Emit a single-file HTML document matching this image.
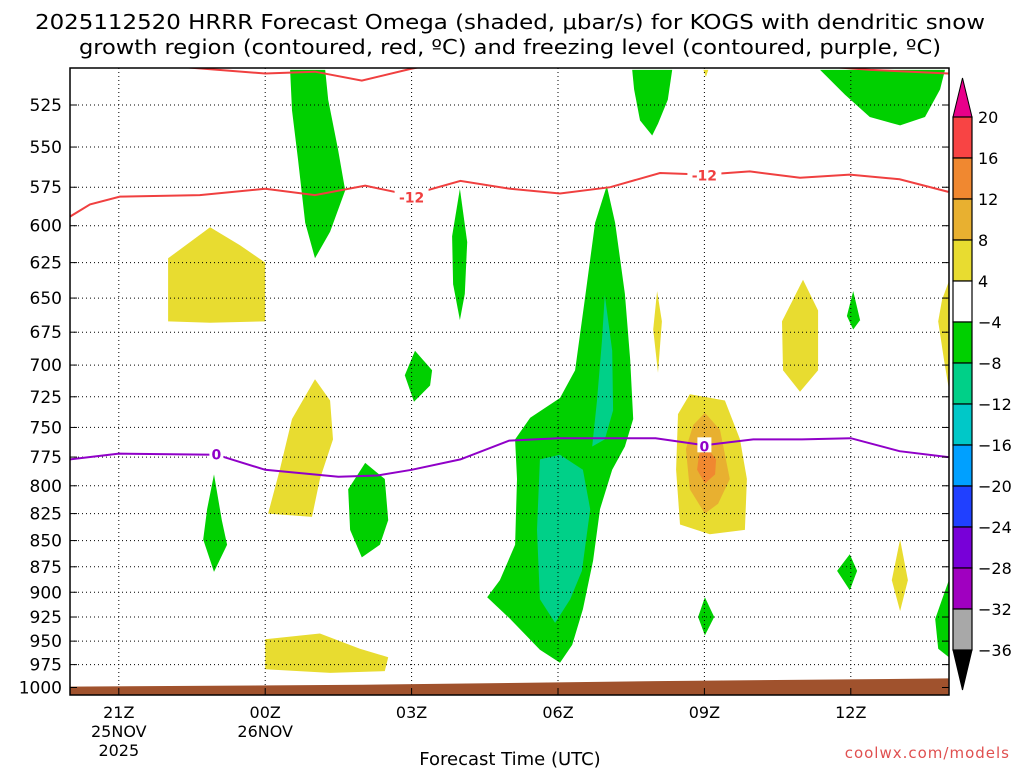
<!DOCTYPE html>
<html><head><meta charset="utf-8"><style>
body{margin:0;background:#fff;}
svg{display:block;font-family:"DejaVu Sans","Liberation Sans",sans-serif;}
</style></head><body>
<svg id="c" width="1024" height="768" viewBox="0 0 1024 768">
<text x="510" y="29" text-anchor="middle" font-size="20" textLength="950" lengthAdjust="spacingAndGlyphs">2025112520 HRRR Forecast Omega (shaded, μbar/s) for KOGS with dendritic snow</text>
<text x="510" y="54" text-anchor="middle" font-size="20" textLength="862" lengthAdjust="spacingAndGlyphs">growth region (contoured, red, ºC) and freezing level (contoured, purple, ºC)</text>
<text x="510" y="765" text-anchor="middle" font-size="18">Forecast Time (UTC)</text>
<text x="1010" y="758" text-anchor="end" font-size="15" fill="#e05050" letter-spacing="1">coolwx.com/models</text>
</svg>
<script>
const pTicks=[525,550,575,600,625,650,675,700,725,750,775,800,825,850,875,900,925,950,975,1000];
const xTickHours=[1,4,7,10,13,16];
const xTickLabels=["21Z","00Z","03Z","06Z","09Z","12Z"];
const xDateLabels=[["25NOV","2025"],["26NOV"],[],[],[],[]];
const frzHours=[0,1,3,4,5.5,6.3,7,8,9,10,12,13,14,15,16,17,18];
const frzP=[777,772,773,786,792,791,786,777,761,759,759,765,760,760,759,770,775];
const dgzHours=[0,0.41,1.02,2.66,4,5.02,6.05,6.97,8,9.02,10.04,11.07,12.09,13.01,13.93,14.96,15.98,17,18];
const dgzP=[594,586,581,580,576,580,574,580,571,576,579,575,566,567,565,569,567,570,578];
const topHours=[1.64,4,5.02,5.98,6.97,7.8,10.9,14.96,16.4,18];
const topP=[502,507,506,511,504.5,500,495,502,505,507];
const terrHours=[0,6,12,18];
const terrP=[999,997,993,990];
const cbLevels=["20","16","12","8","4","−4","−8","−12","−16","−20","−24","−28","−32","−36"];
const cbColors=["#f84444","#f08830","#e8b030","#e8dc30","#ffffff","#00d000","#00d088","#00c8c8","#00a0ff","#2040ff","#7800d8","#a000c0","#a8a8a8"];
const G="#00d000",T="#00d088",Yc="#e8dc30",Au="#e8b030",Or="#f08830";
const blobs=[
[G,[[4.51,505],[5.23,505],[5.29,522],[5.49,551],[5.64,577],[5.33,604],[5.02,622],[4.82,598],[4.67,557],[4.55,528]]],
[G,[[11.52,505],[12.34,505],[12.25,522],[12.05,536],[11.93,543],[11.68,534],[11.56,516]]],
[G,[[15.37,505],[17.93,505],[17.83,516],[17.52,532],[17.01,537],[16.39,532],[15.88,519]]],
[Yc,[[12.98,505],[13.08,505],[13.03,509]]],
[Yc,[[2.01,622],[2.87,601],[3.48,613],[4.0,625],[4.0,667],[2.87,668],[2.01,667]]],
[G,[[7.99,576],[8.14,611],[8.09,647],[7.99,666],[7.85,640],[7.83,607]]],
[G,[[7.07,689],[7.42,704],[7.38,716],[7.05,729],[6.86,708]]],
[Yc,[[5.02,711],[5.33,728],[5.39,760],[5.12,794],[4.96,828],[4.06,825],[4.30,786],[4.55,743]]],
[G,[[6.05,780],[6.45,794],[6.52,831],[6.35,854],[5.98,866],[5.74,840],[5.70,803]]],
[G,[[2.95,790],[3.11,831],[3.22,854],[2.95,880],[2.73,849],[2.81,821]]],
[Yc,[[4,948],[5.12,942],[5.94,958],[6.52,967],[6.45,982],[5.33,984],[4,980]]],
[G,[[11.0,574],[11.17,598],[11.37,647],[11.48,696],[11.54,743],[11.37,766],[11.11,786],[10.86,821],[10.72,869],[10.51,917],[10.29,954],[10.04,973],[9.63,959],[9.02,927],[8.55,905],[8.81,888],[9.12,854],[9.16,794],[9.12,760],[9.43,742],[10.04,726],[10.35,704],[10.55,651],[10.76,598]]],
[T,[[9.63,777],[10.04,773],[10.51,786],[10.66,821],[10.49,879],[10.25,907],[9.94,931],[9.63,907],[9.57,840]]],
[T,[[10.96,648],[11.11,689],[11.13,736],[10.96,760],[10.70,766],[10.80,728],[10.90,682]]],
[Yc,[[12.03,645],[12.13,667],[12.05,706],[11.95,673]]],
[Yc,[[12.70,723],[13.42,728],[13.73,760],[13.87,794],[13.83,840],[13.11,844],[12.5,835],[12.42,786],[12.46,739]]],
[Au,[[13.01,738],[13.32,752],[13.52,794],[13.28,816],[13.01,825],[12.70,803],[12.62,768],[12.77,748]]],
[Or,[[13.03,766],[13.24,777],[13.22,790],[13.01,798],[12.85,786],[12.89,773]]],
[Yc,[[15.02,637],[15.33,659],[15.33,704],[14.96,721],[14.61,704],[14.59,667]]],
[G,[[16.05,645],[16.19,666],[16.05,673],[15.92,663]]],
[Yc,[[18.01,638],[18.01,719],[17.91,696],[17.79,667],[17.87,651]]],
[G,[[15.98,863],[16.13,879],[15.98,898],[15.72,879]]],
[Yc,[[17.01,849],[17.17,888],[17.01,919],[16.84,888]]],
[G,[[13.01,905],[13.20,925],[13.01,944],[12.87,925]]],
[G,[[18.01,888],[18.01,967],[17.79,958],[17.73,927],[17.87,907]]]
];
const blobNames=["green-upper-00z","green-upper-08z","green-upper-12z","yellow-top-09z","yellow-625-23z","green-thin-04z","green-700-03z","yellow-750-01z","green-825-02z","green-850-23z","yellow-960-01z","green-main-06z","teal-main-06z","teal-spire-07z","yellow-thin-08z","yellow-main-09z","gold-09z","orange-09z","yellow-700-11z","green-small-12z","yellow-edge-right","green-880-12z","yellow-880-13z","green-925-09z","green-edge-bottom"];

const NS="http://www.w3.org/2000/svg";
const svg=document.getElementById('c');
const L=70,R=949,Tp=68,B=695;
const X=h=>L+h*48.8;
const Y=p=>105+904*Math.log(p/525);
function mk(tag,attrs,parent){const e=document.createElementNS(NS,tag);for(const k in attrs)e.setAttribute(k,attrs[k]);(parent||svg).appendChild(e);return e;}
const defs=mk('defs',{});
const cp=mk('clipPath',{id:'plotclip'},defs);
mk('rect',{x:L,y:Tp,width:R-L,height:B-Tp},cp);
const plot=mk('g',{'clip-path':'url(#plotclip)'});


blobs.forEach((b,i)=>{
  const pg=mk('polygon',{points:b[1].map(v=>X(v[0]).toFixed(1)+','+Y(v[1]).toFixed(1)).join(' '),fill:b[0]},plot);
  
  
});
// grid
pTicks.forEach(p=>{const l=mk('line',{x1:L,x2:R,y1:Y(p),y2:Y(p),stroke:'#000','stroke-width':1,'stroke-dasharray':'1,3'},plot);

});
xTickHours.forEach((h,i)=>{const l=mk('line',{x1:X(h),x2:X(h),y1:Tp,y2:B,stroke:'#000','stroke-width':1,'stroke-dasharray':'1,3'},plot);

});
// terrain
let tp='M'+X(terrHours[0])+','+(B+5);
terrHours.forEach((h,i)=>{tp+=' L'+X(h)+','+Y(terrP[i]);});
tp+=' L'+X(terrHours[terrHours.length-1])+','+(B+5)+'Z';
const terr=mk('path',{d:tp,fill:'#a0522d'},plot);


function line(hs,ps,col,name){const e=mk('polyline',{points:hs.map((h,i)=>X(h).toFixed(1)+','+Y(ps[i]).toFixed(1)).join(' '),fill:'none',stroke:col,'stroke-width':2},plot);

}
line(topHours,topP,'#f04040','dgz-contour-upper');
line(dgzHours,dgzP,'#f04040','dgz-contour-minus12');
line(frzHours,frzP,'#9000c8','freezing-level-contour');
function clabel(h,p,txt,col,name){
  const r=mk('rect',{x:X(h)-(txt.length*5)-2,y:Y(p)-8,width:txt.length*10+4,height:15,fill:'#fff'},plot);
  const t=mk('text',{x:X(h),y:Y(p)+6,'text-anchor':'middle','font-size':14,'font-weight':'bold',fill:col},plot);
  t.textContent=txt;
  
  
}
clabel(7.0,581,'-12','#f04040','contour-label-minus12-a');
clabel(13.0,567,'-12','#f04040','contour-label-minus12-b');
clabel(3.0,772,'0','#9000c8','contour-label-zero-a');
clabel(13.0,765,'0','#9000c8','contour-label-zero-b');
// frame
const fr=mk('rect',{x:L,y:Tp,width:R-L,height:B-Tp,fill:'none',stroke:'#000','stroke-width':1.5});


// y ticks
pTicks.forEach(p=>{mk('line',{x1:L,x2:L+7,y1:Y(p),y2:Y(p),stroke:'#000'});mk('line',{x1:R-7,x2:R,y1:Y(p),y2:Y(p),stroke:'#000'});
const t=mk('text',{x:62,y:Y(p)+6,'text-anchor':'end','font-size':17});t.textContent=p;

});
xTickHours.forEach((h,i)=>{mk('line',{x1:X(h),x2:X(h),y1:B-7,y2:B,stroke:'#000'});
const t=mk('text',{x:X(h),y:718,'text-anchor':'middle','font-size':16});t.textContent=xTickLabels[i];


xDateLabels[i].forEach((d,j)=>{const s=mk('text',{x:X(h),y:737+j*19,'text-anchor':'middle','font-size':16});s.textContent=d;

});});
// colorbar
const cb=mk('g',{});


const cx=953,cw=19,cy0=117,ch=41;
mk('polygon',{points:`${cx},${cy0} ${cx+cw},${cy0} ${cx+cw/2},78`,fill:'#e8008a',stroke:'#000'},cb);
cbColors.forEach((c,i)=>{mk('rect',{x:cx,y:cy0+i*ch,width:cw,height:ch,fill:c,stroke:'#000','stroke-width':1.2},cb);});
const yb=cy0+cbColors.length*ch;
mk('polygon',{points:`${cx},${yb} ${cx+cw},${yb} ${cx+cw/2},690`,fill:'#000',stroke:'#000'},cb);
cbLevels.forEach((l,i)=>{const t=mk('text',{x:978,y:cy0+i*ch+6,'font-size':16},cb);t.textContent=l;

});
</script>
</body></html>
